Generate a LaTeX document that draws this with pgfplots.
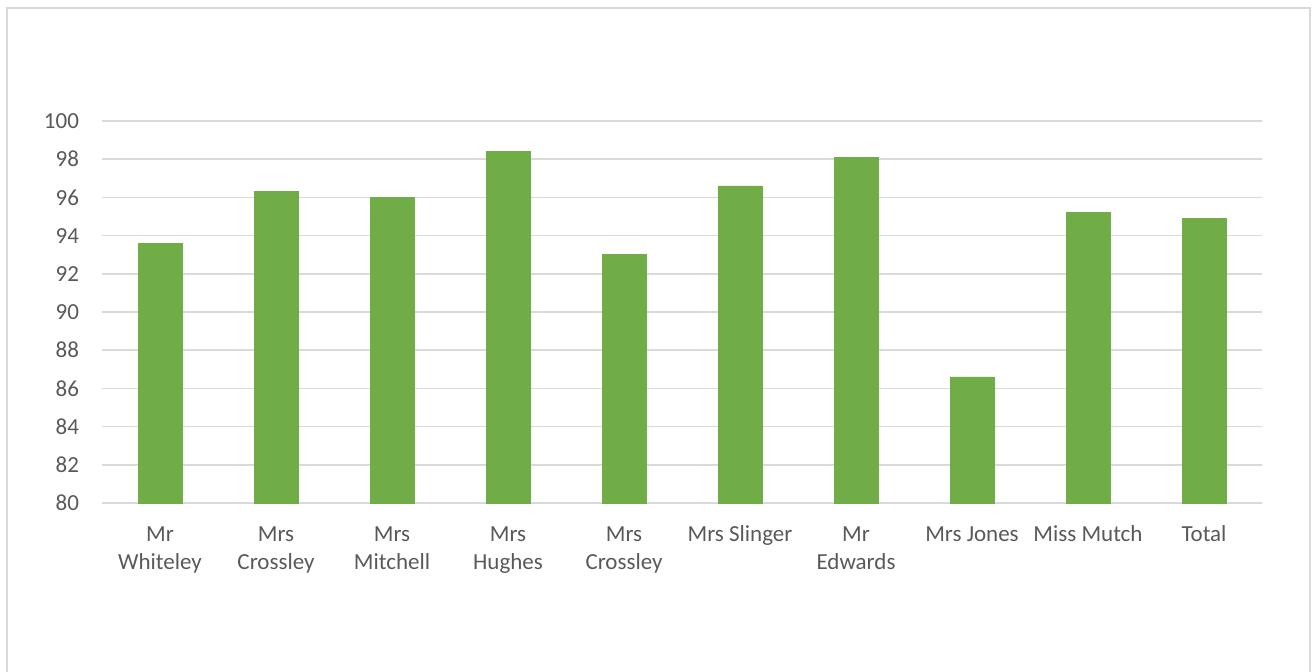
\documentclass[border=0pt]{standalone}
\usepackage{pgfplots}
\pgfplotsset{compat=1.18}
\usepackage{fontspec}
\setmainfont{Carlito}
\definecolor{bargreen}{HTML}{70AD47}
\definecolor{gridgray}{HTML}{D9D9D9}
\definecolor{labelgray}{HTML}{595959}
\definecolor{framegray}{HTML}{D9D9D9}
\newcommand{\lab}[1]{\setlength{\tabcolsep}{0pt}\begin{tabular}[t]{c}#1\end{tabular}}

\begin{document}
\begin{tikzpicture}
\useasboundingbox (0,0) rectangle (658pt,335.5pt);
\draw[framegray, line width=0.8pt] (3.5pt,-2pt) rectangle (655pt,331.5pt);
\begin{axis}[
    at={(51pt,84pt)}, anchor=south west,
    scale only axis,
    width=580pt, height=191pt,
    xmin=-0.5, xmax=9.5,
    ymin=80, ymax=100,
    ytick={80,82,...,100},
    xtick=data,
    xticklabels={\lab{Mr\\Whiteley},\lab{Mrs\\Crossley},\lab{Mrs\\Mitchell},\lab{Mrs\\Hughes},\lab{Mrs\\Crossley},\lab{Mrs Slinger},\lab{Mr\\Edwards},\lab{Mrs Jones},\lab{Miss Mutch},\lab{Total}},
    x tick label style={anchor=north, font=\fontsize{11.5}{14}\selectfont, text=labelgray, yshift=-6pt},
    y tick label style={font=\fontsize{11.5}{14}\selectfont, text=labelgray, xshift=-8pt},
    /pgf/number format/assume math mode=true,
    ymajorgrids,
    grid style={gridgray, line width=0.8pt},
    axis x line*=bottom,
    axis y line*=left,
    x axis line style={gridgray, line width=0.8pt, -},
    y axis line style={draw=none},
    major tick length=0pt,
    ybar, bar width=22pt,
]
\addplot[fill=bargreen, draw=bargreen] coordinates {
    (0,93.6) (1,96.3) (2,96.0) (3,98.4) (4,93.0)
    (5,96.6) (6,98.1) (7,86.6) (8,95.2) (9,94.9)
};
\end{axis}
\end{tikzpicture}
\end{document}
